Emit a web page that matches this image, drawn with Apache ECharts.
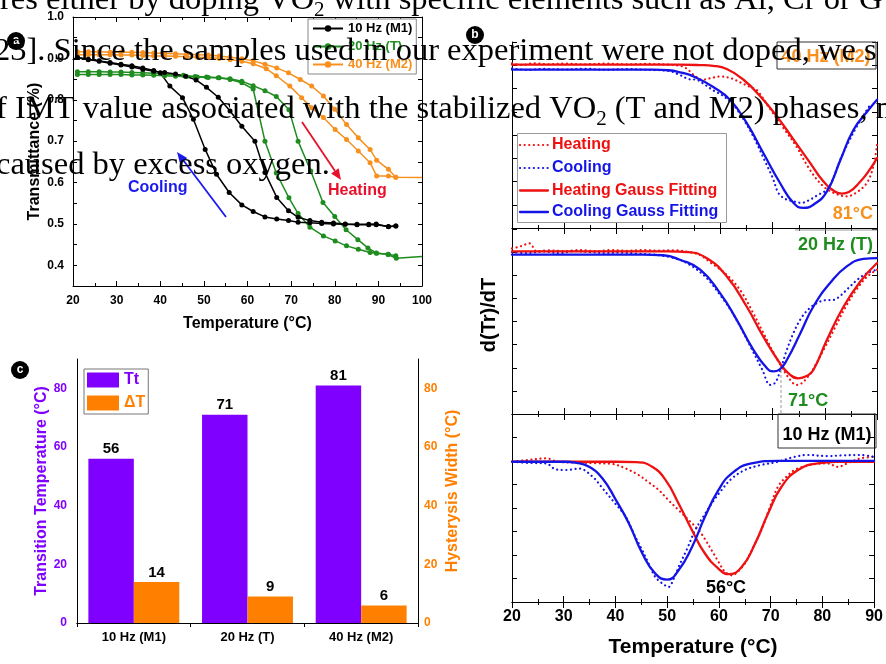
<!DOCTYPE html>
<html><head><meta charset="utf-8">
<script src="https://cdn.jsdelivr.net/npm/echarts@6/dist/echarts.min.js"></script>
<style>html,body{margin:0;padding:0;background:#fff}#c{width:886px;height:664px}</style>
</head><body><div id="c"></div>
<script>
// ================= DATA =================
// Panel a: transmittance vs temperature  [T (°C), transmittance]
const m1Cool = [[21,0.902],[23.5,0.898],[26,0.894],[28.5,0.89],[31,0.886],[33.5,0.882],[36,0.877],[38.5,0.871],[40,0.865],[42.2,0.833],[45.1,0.805],[47.6,0.753],[50.3,0.680],[52.9,0.620],[55.8,0.576],[58.7,0.546],[61.3,0.530],[64,0.517],[66.7,0.512],[69.4,0.508],[71.6,0.504],[74.3,0.503],[77,0.501],[79.7,0.500],[82.4,0.499],[85.1,0.498],[87.8,0.498],[89.5,0.498],[92.3,0.494],[94,0.495]];
const m1Heat = [[21,0.902],[23.5,0.897],[26,0.893],[28.5,0.888],[31,0.884],[33.5,0.879],[36,0.874],[38.5,0.869],[41,0.866],[43.5,0.862],[45.8,0.857],[48.2,0.848],[50.6,0.830],[53.3,0.806],[56,0.773],[58.7,0.736],[61.7,0.700],[64,0.624],[66.7,0.564],[69.4,0.532],[71.6,0.516],[74.3,0.508],[77,0.504],[79.7,0.502],[82.4,0.500],[85.1,0.499],[87.8,0.499],[89.5,0.500],[92.3,0.493],[94,0.495]];
const tCool = [[21,0.868],[23.5,0.868],[26,0.868],[28.5,0.867],[31,0.867],[33.5,0.866],[36,0.865],[38.5,0.864],[41,0.862],[43.5,0.860],[45.3,0.859],[48,0.856],[50.6,0.855],[53.3,0.853],[56,0.849],[58.7,0.841],[61.3,0.826],[64,0.700],[66.6,0.623],[69.5,0.563],[71.6,0.525],[74.3,0.492],[77.4,0.471],[80.1,0.459],[82.7,0.447],[85.4,0.439],[88.1,0.431],[89.6,0.429],[92.3,0.427],[94,0.423]];
const tHeat = [[21,0.861],[23.5,0.861],[26,0.861],[28.5,0.861],[31,0.861],[33.5,0.860],[36,0.860],[38.5,0.859],[41,0.858],[43.5,0.857],[46,0.856],[48.5,0.855],[51,0.854],[53.5,0.853],[56,0.851],[58.7,0.845],[61.3,0.834],[64,0.822],[66.6,0.808],[69.5,0.776],[71.6,0.700],[74.5,0.628],[77.3,0.552],[80,0.518],[82.6,0.486],[85.3,0.462],[87.6,0.442],[89.5,0.430],[92.2,0.426],[94.1,0.417]];
const tTail = [100,0.421];
const m2Cool = [[21,0.909],[23.5,0.909],[26,0.909],[28.5,0.909],[31,0.908],[33.5,0.908],[36,0.907],[38.5,0.906],[41,0.906],[43.5,0.905],[46,0.904],[48.5,0.903],[51,0.902],[53.5,0.900],[56,0.897],[58.7,0.893],[61.3,0.887],[64.3,0.875],[66.6,0.858],[69.7,0.833],[72.4,0.805],[74.7,0.781],[77.4,0.757],[80.1,0.728],[82.7,0.704],[85.4,0.676],[88.1,0.648],[89.6,0.616],[92.3,0.616],[94,0.613]];
const m2Heat = [[21,0.916],[23.5,0.916],[26,0.916],[28.5,0.915],[31,0.915],[33.5,0.915],[36,0.914],[38.5,0.913],[41,0.912],[43.5,0.911],[46,0.910],[48.5,0.909],[51,0.908],[53.5,0.906],[56,0.903],[58.7,0.899],[61.3,0.894],[64,0.886],[66.7,0.877],[69.4,0.865],[72.1,0.849],[74.7,0.833],[77.4,0.809],[80,0.777],[82.7,0.740],[85.4,0.708],[88.1,0.680],[89.6,0.654],[92.3,0.632],[94,0.613]];
const m2Tail = [100,0.612];

// Panel c: bars
const samples = ['10 Hz (M1)','20 Hz (T)','40 Hz (M2)'];
const transitionT = [56, 71, 81];
const hysteresisW = [14, 9, 6];

// Panel b: d(Tr)/dT (arbitrary units, 0 = bottom of each sub-plot, 100 = top)  [T, value]
const m2HeatGauss = [[20,87.8],[40,87.8],[52,87.8],[56,87.6],[58.6,87.2],[61.2,85.5],[64.4,79.7],[67.6,70.8],[70.8,60],[74,47.5],[77.2,34.9],[79.7,25.1],[82,19.5],[83.3,18.5],[84.6,19.3],[86.8,25],[88.5,31],[90,37.6]];
const m2CoolGauss = [[20,85.1],[40,85.1],[47,85.1],[50,84.8],[52.5,83.5],[54.8,81.5],[58.6,75.8],[61.8,69],[65,56.5],[68.2,40.3],[71.4,24.2],[74,13.4],[75.9,10.8],[77.8,12.5],[80.4,19.7],[83,36.7],[85.5,52.8],[88.4,63.6],[90,69]];
const m2HeatDots = [[20,88.5],[22,87.6],[24,88.6],[27,88],[30,88.4],[34,88],[38,88.4],[42,88],[46,88.2],[50,87.8],[53,86.5],[55,82],[56.5,79.7],[58,80.5],[60,81.5],[62,80.5],[64,78],[65.5,76],[67,74],[69.5,64],[72,54],[74.5,44],[77.2,31],[79.7,22.4],[82,18.5],[84.2,17],[86,19],[88,24],[89.3,33],[90,45]];
const m2CoolDots = [[20,85.8],[23,85],[26,85.5],[30,85.2],[34,85.6],[38,85],[42,85.4],[46,85],[50,84.5],[52,82.5],[54,80],[55.4,79.7],[57,77],[58.6,74],[60.5,71],[62.5,66],[64.5,58],[66.5,48],[68.5,36],[70,27],[71.1,18.8],[72.5,15.5],[74,14.3],[75.5,13.5],[77,15],[78.5,17.5],[80.4,20.6],[81.5,26],[83,37],[84.5,46],[86,54],[87.5,61],[88.9,67.2]];

const tHeatGauss = [[20,87.9],[45,87.9],[50,87.9],[53.6,87.5],[57.3,84.3],[61.2,74.3],[65,58.1],[68.2,41.8],[71.4,27.4],[73.2,21.5],[74.9,19.3],[76.5,20.5],[77.8,23.8],[80.4,40.1],[83.6,58.1],[86.8,71.6],[90,81.6]];
const tCoolGauss = [[20,86.1],[45,86.1],[49,85.8],[52.2,83.4],[56.1,78],[59.9,65.3],[63.1,50.9],[66.3,34.7],[68.9,24.7],[70.1,23],[71.3,24],[72.7,29.2],[75.3,43.7],[77.8,58.1],[81,70.8],[84.2,79.8],[87.4,83.8],[90,84.3]];
const tHeatDots = [[20,89.5],[21.5,90.5],[23.4,92.2],[24.7,88],[27,88.5],[30,88],[33,88.6],[36,88],[39,88.6],[42,88.2],[45,88.6],[48,88.3],[51,88.5],[54,87.5],[56,86],[58,82],[60,78],[62,73],[64,66],[66,56],[68,45],[70,34],[72,24],[73.5,18],[74.5,15.7],[75.5,16.5],[77,21],[78.5,28],[80,36],[82,47],[84,58],[86,67],[88,74],[90,78]];
const tCoolDots = [[20,87.5],[23,87],[26,87.8],[29,87],[32,88],[35,87.5],[38,87],[41,87.2],[44,86.7],[47,86.2],[50,85],[52.5,83],[55,79],[57.5,73],[60,64],[62,56],[64,46],[66,35],[68,24],[69.5,15.7],[70.5,17],[71.5,24],[72.5,33],[74,44],[75.5,52],[77,57],[78.5,60],[80,61.5],[81.7,61.7],[83,64],[84.5,68],[86.2,72.5],[88,76],[90,78]];

const m1HeatGauss = [[20,74.6],[40,74.6],[44,74.4],[47.1,71.9],[49.7,64.8],[52.2,52.4],[54.8,38.2],[57.3,25.8],[59.9,17.8],[61.8,14.8],[64.4,18.6],[67,31.1],[69.5,47.1],[72.1,61.3],[75.3,70.2],[79.1,73.7],[83,74.5],[90,74.6]];
const m1CoolGauss = [[20,74.6],[30,74.6],[32.5,74],[34.9,71.9],[37.5,65.7],[40.1,54.2],[42.6,41.8],[45.2,25.8],[47.7,15.1],[50,11.9],[52.2,16.9],[54.8,29.3],[57.3,45.3],[59.9,59.5],[62.5,68.4],[66.3,73.7],[71.4,75.1],[90,75.1]];
const m1HeatDots = [[20.2,74.6],[23,75.5],[26.6,76.4],[29,74.5],[33,74.1],[36,73.8],[39.4,73.4],[42,71],[44.5,67.5],[46.5,63.5],[48.4,59.5],[50.3,54],[52.2,48.9],[54.2,43.5],[56.1,38.2],[57.4,33],[58.6,27.5],[60,21],[61.2,16],[62.5,14.2],[63.8,16.5],[65,20.5],[66.6,29],[68.2,38.2],[69.8,50],[71.4,61.3],[73,66.5],[74.6,70.2],[77,72.5],[79,73.5],[81,73.7],[83,71.9],[85,74],[87.4,76.4],[90,77.2]];
const m1CoolDots = [[20.2,74.6],[23,74],[26.6,73.7],[28.5,70.5],[30.5,70.2],[33,71],[35.6,66.6],[37.5,60.5],[39.4,54.2],[42,45.3],[43.6,36],[45.2,27.5],[46.5,20],[47.7,13.3],[49,10],[50.3,8],[51.2,12],[52.2,18.6],[53.8,28],[55.4,38.2],[57,45.5],[58.6,52.4],[60.5,59.5],[62.5,65.7],[65,70.2],[68,72.8],[71.4,74.6],[74.6,77.2],[77.2,78.2],[81,77.6],[84,78],[87.4,78.2],[90,77.2]];

// Overlaid body text
const bodyLines = [
  ['res either by doping VO', '2', ' with specific elements such as Al, Cr or G'],
  ['23]. Since the samples used in our experiment were not doped, we s'],
  ['f IMT value associated with the stabilized VO', '2', ' (T and M2) phases, m'],
  ['caused by excess oxygen.']
];
const bLegendNames = ['Heating', 'Cooling', 'Heating Gauss Fitting', 'Cooling Gauss Fitting'];

// ================= STYLE =================
const F = 'Liberation Sans';
const BLACK = '#000', GREEN = '#1e8c1e', ORANGE = '#f7901e';
const PURPLE = '#8000ff', ORANGE_C = '#ff8000';
const RED = '#ee1111', BLUE = '#1414e6';
const bold = (size, color) => ({fontFamily: F, fontWeight: 'bold', fontSize: size, color: color || BLACK});
const line = {show: true, lineStyle: {color: '#000', width: 1}};

const grids = [
  {left: 73, top: 17, width: 349, height: 269},
  {left: 77, top: 359, width: 341, height: 264},
  {left: 512, top: 42, width: 365, height: 186},
  {left: 512, top: 229, width: 365, height: 185},
  {left: 512, top: 414, width: 365, height: 188}
];

const xAxes = [
  {type: 'value', gridIndex: 0, min: 20, max: 100, interval: 10, position: 'bottom', axisLine: line,
   axisTick: {inside: true, length: 5, lineStyle: {color: '#000'}},
   minorTick: {show: true, splitNumber: 2, length: 3, lineStyle: {color: '#000'}},
   axisLabel: Object.assign(bold(12), {margin: 9}), splitLine: {show: false},
   name: 'Temperature (°C)', nameLocation: 'middle', nameGap: 30, nameTextStyle: bold(16)},
  {type: 'value', gridIndex: 0, min: 20, max: 100, interval: 10, position: 'top', axisLine: line,
   axisTick: {inside: true, length: 5, lineStyle: {color: '#000'}},
   minorTick: {show: true, splitNumber: 2, length: 3, lineStyle: {color: '#000'}},
   axisLabel: {show: false}, splitLine: {show: false}},
  {type: 'category', gridIndex: 1, data: samples, position: 'bottom', axisLine: line,
   axisTick: {show: true, length: 4, lineStyle: {color: '#000'}},
   axisLabel: Object.assign(bold(13), {margin: 8})},
  {type: 'category', gridIndex: 1, data: samples, position: 'top', axisLine: line,
   axisTick: {show: true, inside: true, length: 4, lineStyle: {color: '#000'}},
   axisLabel: {show: false}}
];
const yAxes = [
  {type: 'value', gridIndex: 0, min: 0.35, max: 1.0, interval: 0.05, position: 'left', axisLine: line,
   axisTick: {inside: true, length: 4, lineStyle: {color: '#000'}},
   axisLabel: Object.assign(bold(12), {margin: 9, formatter: v => (Math.round(v * 100) % 10 === 0 ? v.toFixed(1) : '')}),
   splitLine: {show: false},
   name: 'Transmittance (%)', nameLocation: 'middle', nameGap: 30, nameTextStyle: bold(16)},
  {type: 'value', gridIndex: 0, min: 0.35, max: 1.0, interval: 0.05, position: 'right', axisLine: line,
   axisTick: {inside: true, length: 4, lineStyle: {color: '#000'}},
   axisLabel: {show: false}, splitLine: {show: false}},
  {type: 'value', gridIndex: 1, min: 0, max: 90, interval: 10, position: 'left', axisLine: line,
   axisTick: {length: 4, lineStyle: {color: '#000'}},
   axisLabel: Object.assign(bold(12, PURPLE), {margin: 10, formatter: v => (v % 20 === 0 ? v : '')}),
   splitLine: {show: false},
   name: 'Transition Temperature (°C)', nameLocation: 'middle', nameGap: 26, nameTextStyle: bold(16, PURPLE)},
  {type: 'value', gridIndex: 1, min: 0, max: 90, interval: 10, position: 'right', axisLine: line,
   axisTick: {length: 4, lineStyle: {color: '#000'}},
   axisLabel: Object.assign(bold(12, ORANGE_C), {margin: 6, formatter: v => (v % 20 === 0 ? v : '')}),
   splitLine: {show: false},
   name: 'Hysterysis Width (°C)', nameLocation: 'middle', nameGap: 27, nameTextStyle: bold(16, ORANGE_C)}
];
// panel b axes (index 4..9)
for (let g = 0; g < 3; g++) {
  const last = g === 2;
  xAxes.push({type: 'value', gridIndex: 2 + g, min: 20, max: 90, interval: 10, position: 'bottom', axisLine: line,
    axisTick: {inside: true, length: 6, lineStyle: {color: '#000'}},
    minorTick: {show: true, splitNumber: 2, length: 3, lineStyle: {color: '#000'}},
    axisLabel: last ? Object.assign(bold(16), {margin: 7}) : {show: false}, splitLine: {show: false},
    name: last ? 'Temperature (°C)' : '', nameLocation: 'middle', nameGap: 35, nameTextStyle: bold(21)});
  xAxes.push({type: 'value', gridIndex: 2 + g, min: 20, max: 90, interval: 10, position: 'top', axisLine: line,
    axisTick: {inside: true, length: 6, lineStyle: {color: '#000'}},
    minorTick: {show: true, splitNumber: 2, length: 3, lineStyle: {color: '#000'}},
    axisLabel: {show: false}, splitLine: {show: false}});
  ['left', 'right'].forEach(pos => yAxes.push({type: 'value', gridIndex: 2 + g, min: 0, max: 100, interval: 12.5,
    position: pos, axisLine: line, axisTick: {inside: true, length: 5, lineStyle: {color: '#000'}},
    axisLabel: {show: false}, splitLine: {show: false}}));
}

// ================= SERIES =================
const series = [];
function aSeries(name, data, color) {
  series.push({type: 'line', name, xAxisIndex: 0, yAxisIndex: 0, data, symbol: 'circle', symbolSize: 5,
    showAllSymbol: true, lineStyle: {color, width: 1.5}, itemStyle: {color}, z: 3});
}
aSeries('40 Hz (M2)', m2Cool, ORANGE);
aSeries('40 Hz (M2)', m2Heat.concat([{value: m2Tail, symbol: 'none'}]), ORANGE);
aSeries('20 Hz (T)', tCool, GREEN);
aSeries('20 Hz (T)', tHeat.concat([{value: tTail, symbol: 'none'}]), GREEN);
aSeries('10 Hz (M1)', m1Cool, BLACK);
aSeries('10 Hz (M1)', m1Heat, BLACK);

series.push({type: 'bar', name: 'Tt', xAxisIndex: 2, yAxisIndex: 2, data: transitionT, barWidth: '40%', barGap: '0%',
  itemStyle: {color: PURPLE}, label: Object.assign({show: true, position: 'top', distance: 2}, bold(15))});
series.push({type: 'bar', name: 'ΔT', xAxisIndex: 2, yAxisIndex: 3, data: hysteresisW, barWidth: '40%', barGap: '0%',
  itemStyle: {color: ORANGE_C}, label: Object.assign({show: true, position: 'top', distance: 2}, bold(15))});

const DOT = [0.1, 4.5];  // tiny dashes with round caps -> dots
function bSeries(name, data, g, color, dotted) {
  series.push({type: 'line', name, xAxisIndex: 4 + 2 * g, yAxisIndex: 4 + 2 * g, data, symbol: 'none',
    smooth: dotted ? 0.35 : 0.5,
    lineStyle: {color, width: dotted ? 2.2 : 2.3, type: dotted ? DOT : 'solid', cap: 'round'},
    itemStyle: {color}, z: dotted ? 3 : 4});
}
[[m2HeatDots, m2CoolDots, m2HeatGauss, m2CoolGauss],
 [tHeatDots, tCoolDots, tHeatGauss, tCoolGauss],
 [m1HeatDots, m1CoolDots, m1HeatGauss, m1CoolGauss]].forEach((set, g) => {
  bSeries(bLegendNames[0], set[0], g, RED, true);
  bSeries(bLegendNames[1], set[1], g, BLUE, true);
  bSeries(bLegendNames[2], set[2], g, RED, false);
  bSeries(bLegendNames[3], set[3], g, BLUE, false);
});

// ================= GRAPHICS =================
const G = [];
function txt(x, y, text, font, fill, align, valign, extra) {
  return Object.assign({type: 'text', x, y, z: 50,
    style: {text, font, fill, textAlign: align || 'left', textVerticalAlign: valign || 'middle'}}, extra || {});
}
function circleLabel(cx, cy, letter) {
  G.push({type: 'circle', shape: {cx, cy, r: 9}, style: {fill: '#000'}, z: 40});
  G.push(txt(cx, cy, letter, 'bold 12px ' + F, '#fff', 'center', 'middle'));
}
function arrow(x0, y0, x1, y1, color) {
  const ang = Math.atan2(y1 - y0, x1 - x0), L = 11, W = 4.5;
  const bx = x1 - L * Math.cos(ang), by = y1 - L * Math.sin(ang);
  const nx = -Math.sin(ang), ny = Math.cos(ang);
  G.push({type: 'line', shape: {x1: x0, y1: y0, x2: bx, y2: by}, style: {stroke: color, lineWidth: 1.8}, z: 20});
  G.push({type: 'polygon', shape: {points: [[x1, y1], [bx + nx * W, by + ny * W], [bx - nx * W, by - ny * W]]},
    style: {fill: color}, z: 20});
}
circleLabel(16, 41, 'a');
circleLabel(20, 370, 'c');
circleLabel(475, 35, 'b');

// panel a annotations
G.push(txt(128, 188, 'Cooling', 'bold 16px ' + F, '#1a1aee', 'left', 'middle'));
G.push(txt(328, 191, 'Heating', 'bold 16px ' + F, '#e8102a', 'left', 'middle'));
arrow(226, 217, 177, 152, '#1a1aee');
arrow(302, 122, 341, 180, '#e8102a');

// panel b legend (drawn)
G.push({type: 'rect', shape: {x: 517.5, y: 133.5, width: 209, height: 89}, style: {fill: '#fff', stroke: '#999', lineWidth: 1}, z: 30});
const legRows = [145, 168, 190.5, 212];
const legCols = [RED, BLUE, RED, BLUE];
bLegendNames.forEach((nm, i) => {
  const dotted = i < 2;
  G.push({type: 'line', shape: {x1: 520, y1: legRows[i], x2: 548, y2: legRows[i]}, z: 31,
    style: {stroke: legCols[i], lineWidth: dotted ? 2.2 : 2.3, lineDash: dotted ? DOT : null, lineCap: 'round'}});
  G.push(txt(552, legRows[i], nm, 'bold 16px ' + F, legCols[i], 'left', 'middle'));
});

// panel b annotations
G.push({type: 'rect', shape: {x: 777, y: 42, width: 99, height: 27}, style: {fill: 'none', stroke: '#333', lineWidth: 1}, z: 30});
G.push(txt(826, 57, '40 Hz (M2)', 'bold 18px ' + F, ORANGE, 'center', 'middle'));
G.push(txt(873, 214, '81°C', 'bold 18px ' + F, ORANGE, 'right', 'middle'));
G.push({type: 'line', shape: {x1: 795, y1: 230, x2: 877, y2: 230}, style: {stroke: '#999', lineWidth: 1}, z: 30});
G.push(txt(873, 245, '20 Hz (T)', 'bold 18px ' + F, GREEN, 'right', 'middle'));
G.push({type: 'line', shape: {x1: 781, y1: 370, x2: 781, y2: 414}, style: {stroke: '#999', lineWidth: 1, lineDash: [3, 2]}, z: 30});
G.push(txt(788, 401, '71°C', 'bold 18px ' + F, GREEN, 'left', 'middle'));
G.push({type: 'rect', shape: {x: 778, y: 414, width: 98, height: 34}, style: {fill: 'none', stroke: '#333', lineWidth: 1}, z: 30});
G.push(txt(827, 435, '10 Hz (M1)', 'bold 18px ' + F, '#000', 'center', 'middle'));
G.push(txt(726, 588, '56°C', 'bold 18px ' + F, '#000', 'center', 'middle'));
G.push(txt(489, 315, 'd(Tr)/dT', 'bold 20px ' + F, '#000', 'center', 'middle', {rotation: Math.PI / 2}));

// overlaid body text
const mctx = document.createElement('canvas').getContext('2d');
function tw(s, font) { mctx.font = font; return mctx.measureText(s).width; }
const SERIF = '32.5px "Liberation Serif"', SUBF = '21px "Liberation Serif"';
const lineStart = [0, -6, -4, -4];
const lineBase = [12, 63, 121, 177];
bodyLines.forEach((segs, i) => {
  let x = lineStart[i];
  segs.forEach((s, k) => {
    const sub = (segs.length === 3 && k === 1);
    const font = sub ? SUBF : SERIF;
    const base = lineBase[i] + (sub ? 6 : 0);
    const size = sub ? 21 : 32.5;
    G.push({type: 'text', x, y: base - 0.34 * size, z: 100,
      style: {text: s, font, fill: '#000', textAlign: 'left', textVerticalAlign: 'middle'}});
    x += tw(s, font);
  });
});

// ================= OPTION =================
const option = {
  animation: false,
  backgroundColor: '#fff',
  grid: grids,
  xAxis: xAxes,
  yAxis: yAxes,
  legend: [
    {data: [{name: '10 Hz (M1)', textStyle: {color: BLACK}}, {name: '20 Hz (T)', textStyle: {color: GREEN}},
            {name: '40 Hz (M2)', textStyle: {color: ORANGE}}],
     orient: 'vertical', left: 308, top: 19, itemWidth: 30, itemHeight: 8, itemGap: 5,
     textStyle: bold(13), backgroundColor: '#fff', borderColor: '#888', borderWidth: 1, padding: [3, 4, 3, 4]},
    {data: [{name: 'Tt', textStyle: {color: PURPLE}}, {name: 'ΔT', textStyle: {color: ORANGE_C}}],
     orient: 'vertical', left: 84, top: 369, itemWidth: 32, itemHeight: 15, itemGap: 7, icon: 'rect',
     textStyle: bold(16), borderColor: '#777', borderWidth: 1, padding: [3, 3, 3, 3]}
  ],
  graphic: G,
  series
};
const chart = echarts.init(document.getElementById('c'));
chart.setOption(option);
</script></body></html>
